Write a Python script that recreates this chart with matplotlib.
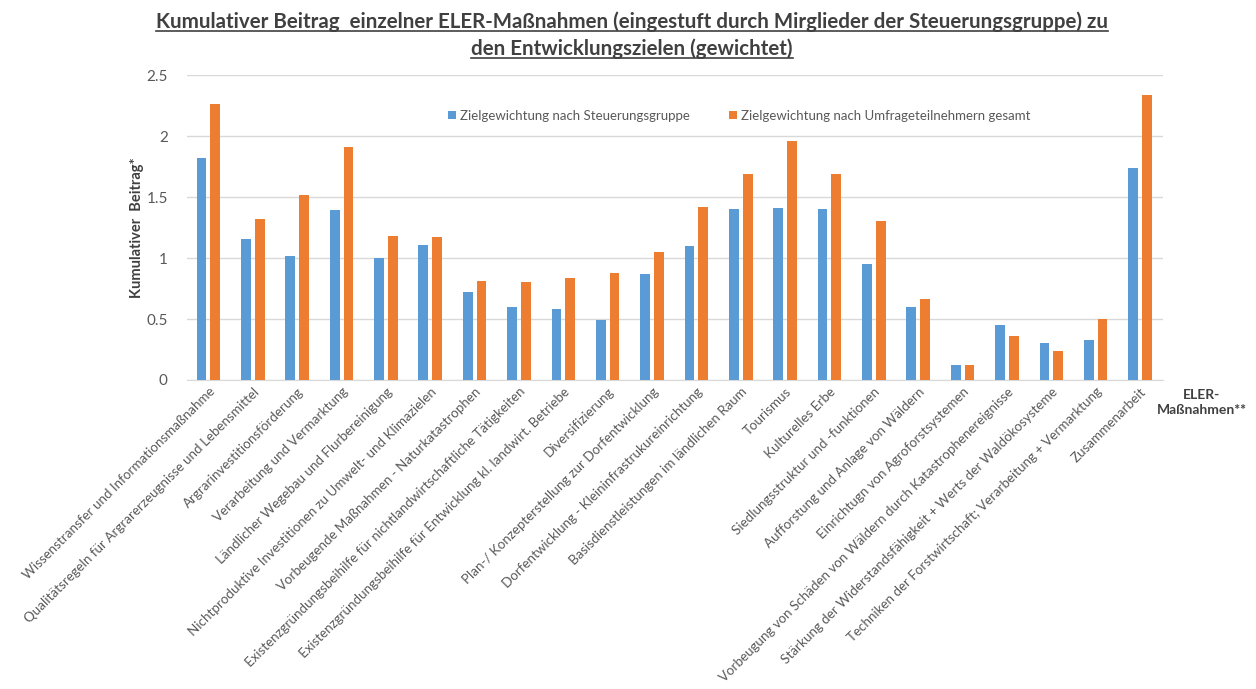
import matplotlib
matplotlib.use("Agg")
import matplotlib.pyplot as plt
import numpy as np
from matplotlib.lines import Line2D

plt.rcParams["font.family"] = ["Lato", "DejaVu Sans"]

massnahmen = [
    "Wissenstransfer und Informationsmaßnahme",
    "Qualitätsregeln für Argrarerzeugnisse und Lebensmittel",
    "Argrarinvestitionsförderung",
    "Verarbeitung und Vermarktung",
    "Ländlicher Wegebau und Flurbereinigung",
    "Nichtproduktive Investitionen zu Umwelt- und Klimazielen",
    "Vorbeugende Maßnahmen - Naturkatastrophen",
    "Existenzgründungsbeihilfe für nichtlandwirtschaftliche Tätigkeiten",
    "Existenzgründungsbeihilfe für Entwicklung kl. landwirt. Betriebe",
    "Diversifizierung",
    "Plan-/ Konzepterstellung zur Dorfentwicklung",
    "Dorfentwicklung - Kleininfrastrukureinrichtung",
    "Basisdienstleistungen im ländlichen Raum",
    "Tourismus",
    "Kulturelles Erbe",
    "Siedlungsstruktur und -funktionen",
    "Aufforstung und Anlage von Wäldern",
    "Einrichtugn von Agroforstsystemen",
    "Vorbeugung von Schäden von Wäldern durch Katastrophenereignisse",
    "Stärkung der Widerstandsfähigkeit + Werts der Waldökosysteme",
    "Techniken der Forstwirtschaft; Verarbeitung + Vermarktung",
    "Zusammenarbeit",
]
steuerungsgruppe = [1.82, 1.16, 1.02, 1.39, 1.00, 1.11, 0.72, 0.60, 0.58, 0.49, 0.87,
                    1.10, 1.40, 1.41, 1.40, 0.95, 0.60, 0.12, 0.45, 0.30, 0.33, 1.74]
umfrage = [2.26, 1.32, 1.52, 1.91, 1.18, 1.17, 0.81, 0.80, 0.84, 0.88, 1.05,
           1.42, 1.69, 1.96, 1.69, 1.30, 0.66, 0.12, 0.36, 0.235, 0.50, 2.34]
legend_labels = ["Zielgewichtung nach Steuerungsgruppe",
                 "Zielgewichtung nach Umfrageteilnehmern gesamt"]

BLUE = "#5B9BD5"
ORANGE = "#ED7D31"
TEXT = "#595959"

fig = plt.figure(figsize=(12.56, 6.89), dpi=100)
ax = fig.add_axes([0.149, 0.4485, 0.777, 0.4425])

x = np.arange(len(massnahmen))
w = 0.22
ax.bar(x - 0.155, steuerungsgruppe, w, color=BLUE, label=legend_labels[0], zorder=3)
ax.bar(x + 0.155, umfrage, w, color=ORANGE, label=legend_labels[1], zorder=3)

ax.set_xlim(-0.48, len(massnahmen) - 0.48)
ax.set_ylim(0, 2.5)
ax.set_yticks([0, 0.5, 1, 1.5, 2, 2.5])
ax.set_yticklabels(["0", "0.5", "1", "1.5", "2", "2.5"])
ax.yaxis.grid(True, color="#D9D9D9", linewidth=1, zorder=0)
ax.set_axisbelow(True)
for s in ["top", "right", "left"]:
    ax.spines[s].set_visible(False)
ax.spines["bottom"].set_color("#D9D9D9")
ax.tick_params(axis="both", length=0, colors=TEXT)
ax.tick_params(axis="y", pad=14, labelsize=11)

ax.set_xticks(x)
ax.set_xticklabels(massnahmen, rotation=45, ha="right", rotation_mode="anchor",
                   fontsize=9.6, color=TEXT)
ax.tick_params(axis="x", pad=4)

ax.set_ylabel("Kumulativer  Beitrag*", fontsize=10.5, fontweight="bold",
              color="#404040", labelpad=2)

ax.legend(loc="center left", bbox_to_anchor=(0.255, 0.866), ncol=2, frameon=False,
          fontsize=9.5, handlelength=0.6, handleheight=0.6, handletextpad=0.3,
          columnspacing=3.0, labelcolor=TEXT)

fig.text(0.957, 0.436, "ELER-\nMaßnahmen**", ha="center", va="top", fontsize=10,
         fontweight="bold", color="#404040", linespacing=1.3)

# title, underlined
t1 = fig.text(0.503, 0.968, "Kumulativer Beitrag  einzelner ELER-Maßnahmen (eingestuft durch Mirglieder der Steuerungsgruppe) zu",
              ha="center", va="center", fontsize=14.8, fontweight="bold", color="#404040")
t2 = fig.text(0.503, 0.929, "den Entwicklungszielen (gewichtet)",
              ha="center", va="center", fontsize=14.8, fontweight="bold", color="#404040")
renderer = fig.canvas.get_renderer()
for t in (t1, t2):
    bb = t.get_window_extent(renderer).transformed(fig.transFigure.inverted())
    fig.lines.append(Line2D([bb.x0, bb.x1], [bb.y0 + 0.002, bb.y0 + 0.002],
                            transform=fig.transFigure, color="#404040", linewidth=1.2))

fig.savefig("out.png", dpi=100)
